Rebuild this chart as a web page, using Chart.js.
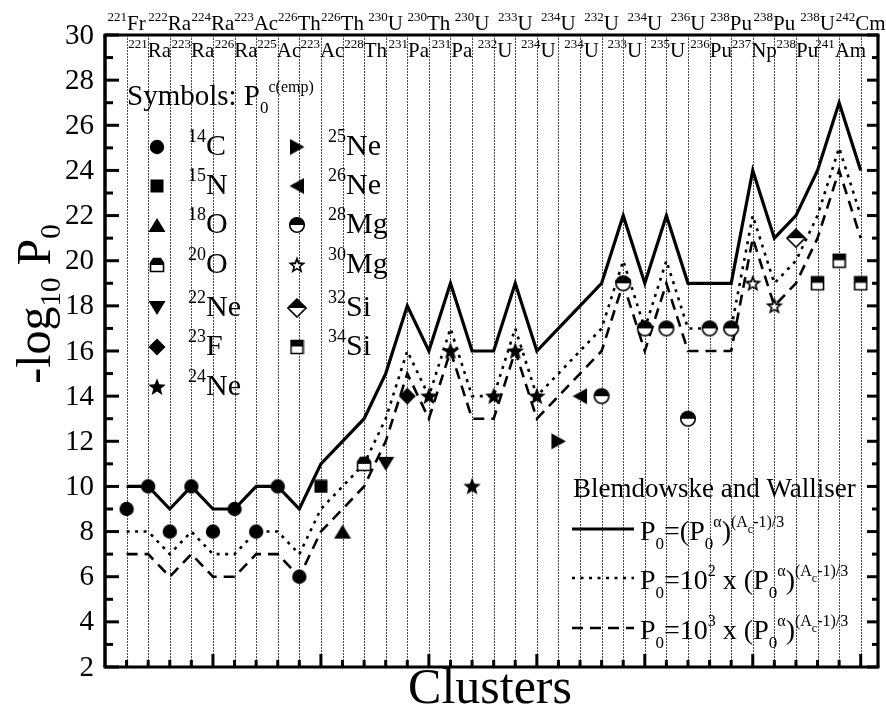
<!DOCTYPE html>
<html>
<head>
<meta charset="utf-8">
<script src="https://cdn.jsdelivr.net/npm/chart.js@4"></script>
<style>
html,body{margin:0;padding:0;background:#fff;}
canvas{display:block;}
</style>
</head>
<body>
<canvas id="c" width="886" height="710"></canvas>
<script>
// ---------- DATA ----------
const categories = ['221Fr','221Ra','222Ra','223Ra','224Ra','226Ra','223Ac','225Ac','226Th','223Ac','226Th','228Th','230U','231Pa','230Th','231Pa','230U','232U','233U','234U','234U','234U','232U','233U','234U','235U','236U','236Pu','238Pu','237Np','238Pu','238Pu','238U','241Am','242Cm'];
const solidBW  = [10,10,9,10,9,9,10,10,9,11,12,13,15,18,16,19,16,16,19,16,17,18,19,22,19,22,19,19,19,24,21,22,24,27,24];
const dotted100 = [8,8,7,8,7,7,8,8,7,9,10,11,13,16,14,17,14,14,17,14,15,16,17,20,17,20,17,17,17,22,19,20,22,25,22];
const dashed1000 = [7,7,6,7,6,6,7,7,6,8,9,10,12,15,13,16,13,13,16,13,14,15,16,19,16,19,16,16,16,21,18,19,21,24,21];
const empValues = [9,10,8,10,8,9,8,10,6,10,8,11,11,14,14,16,10,14,16,14,12,14,14,19,17,17,13,17,17,19,18,21,19,20,19];
const empCluster = ['14C','14C','14C','14C','14C','14C','14C','14C','14C','15N','18O','20O','22Ne','23F','24Ne','24Ne','24Ne','24Ne','24Ne','24Ne','25Ne','26Ne','28Mg','28Mg','28Mg','28Mg','28Mg','28Mg','28Mg','30Mg','30Mg','32Si','34Si','34Si','34Si'];
const legendCol1 = ['14C','15N','18O','20O','22Ne','23F','24Ne'];
const legendCol2 = ['25Ne','26Ne','28Mg','30Mg','32Si','34Si'];
const yTicks = [2,4,6,8,10,12,14,16,18,20,22,24,26,28,30];

// ---------- SYMBOLS ----------
function mk(w,h,fn){const c=document.createElement('canvas');c.width=w;c.height=h;const g=c.getContext('2d');fn(g,w,h);return c;}
function poly(g,pts){g.beginPath();pts.forEach((p,i)=>i?g.lineTo(p[0],p[1]):g.moveTo(p[0],p[1]));g.closePath();}
function starPath(g,cx,cy,R,r){g.beginPath();for(let k=0;k<10;k++){const a=-Math.PI/2+k*Math.PI/5;const rr=k%2?r:R;const px=cx+rr*Math.cos(a),py=cy+rr*Math.sin(a);k?g.lineTo(px,py):g.moveTo(px,py);}g.closePath();}
function halfFill(g,w,h,pathFn,cut){
  pathFn(); g.fillStyle='#fff'; g.fill();
  g.save(); pathFn(); g.clip(); g.fillStyle='#000'; g.fillRect(0,0,w,cut); g.restore();
  pathFn(); g.lineWidth=1.6; g.strokeStyle='#000'; g.stroke();
}
const symbols = {
  '14C': mk(16,16,g=>{g.beginPath();g.arc(8,8,7.2,0,Math.PI*2);g.fill();}),
  '15N': mk(14,14,g=>{g.fillRect(0.5,0.5,13,13);}),
  '18O': mk(18,16,g=>{poly(g,[[9,1],[17.5,15],[0.5,15]]);g.fill();}),
  '20O': mk(16,16,(g,w,h)=>halfFill(g,w,h,()=>poly(g,[[1.5,6],[4.5,1.5],[11.5,1.5],[14.5,6],[14.5,14.5],[1.5,14.5]]),8)),
  '22Ne': mk(18,16,g=>{poly(g,[[0.5,1],[17.5,1],[9,15]]);g.fill();}),
  '23F': mk(18,18,g=>{poly(g,[[9,0.5],[17.5,9],[9,17.5],[0.5,9]]);g.fill();}),
  '24Ne': mk(20,20,g=>{starPath(g,10,10.5,9.2,3.9);g.fill();}),
  '25Ne': mk(16,17,g=>{poly(g,[[1,0.5],[15.5,8.5],[1,16.5]]);g.fill();}),
  '26Ne': mk(16,17,g=>{poly(g,[[15,0.5],[0.5,8.5],[15,16.5]]);g.fill();}),
  '28Mg': mk(18,18,(g,w,h)=>halfFill(g,w,h,()=>{g.beginPath();g.arc(9,9,7.3,0,Math.PI*2);},9)),
  '30Mg': mk(20,20,g=>{starPath(g,10,10.5,9.2,3.9);g.fillStyle='#000';g.fill();starPath(g,10,10.8,4.6,1.9);g.fillStyle='#fff';g.fill();}),
  '32Si': mk(20,20,(g,w,h)=>halfFill(g,w,h,()=>poly(g,[[10,1],[19,10],[10,19],[1,10]]),10)),
  '34Si': mk(15,16,(g,w,h)=>halfFill(g,w,h,()=>{g.beginPath();g.rect(1.5,1.5,12,13);},7.5))
};

// ---------- DATASETS ----------
const lineData = arr => arr.map((v,i)=>({x:i+1,y:v}));
const clusterTypes = legendCol1.concat(legendCol2);
const markerSets = clusterTypes.map(ct=>({
  label: ct,
  data: empValues.map((v,i)=>empCluster[i]===ct?{x:i+1,y:v}:null).filter(p=>p),
  showLine:false,
  pointStyle: symbols[ct],
  pointRadius: 7,
  pointHoverRadius: 7,
  order: 0
}));
const datasets = [
  {label:'solid',data:lineData(solidBW),borderColor:'#000',borderWidth:3.2,pointRadius:0,tension:0,fill:false,order:1},
  {label:'dotted',data:lineData(dotted100),borderColor:'#000',borderWidth:2.6,borderDash:[3,5.5],pointRadius:0,tension:0,fill:false,order:1},
  {label:'dashed',data:lineData(dashed1000),borderColor:'#000',borderWidth:2.6,borderDash:[11,7],pointRadius:0,tension:0,fill:false,order:1}
].concat(markerSets);

// ---------- TEXT HELPERS ----------
const FONT = '"Liberation Serif","DejaVu Serif",serif';
function richWidth(ctx,segs,S){let w=0;segs.forEach(s=>{ctx.font=S[s[1]].size+'px '+FONT;w+=ctx.measureText(s[0]).width;});return w;}
function drawRich(ctx,x,y,segs,S){
  let cx=x;
  segs.forEach(s=>{const st=S[s[1]];ctx.font=st.size+'px '+FONT;ctx.fillText(s[0],cx,y+st.dy);cx+=ctx.measureText(s[0]).width;});
  return cx;
}
const fS = {n:{size:28,dy:0},sub:{size:17,dy:9},sup:{size:16,dy:-13},ss:{size:12,dy:-7}};

// ---------- PLUGIN ----------
const deco = {
  id:'deco',
  beforeDatasetsDraw(chart){
    const ctx=chart.ctx, xs=chart.scales.x, a=chart.chartArea;
    ctx.save();
    ctx.strokeStyle='#4a4a4a'; ctx.lineWidth=1; ctx.setLineDash([2,1]);
    for(let i=1;i<=categories.length;i++){
      const px=Math.round(xs.getPixelForValue(i))+0.5;
      ctx.beginPath(); ctx.moveTo(px,a.top); ctx.lineTo(px,a.bottom); ctx.stroke();
    }
    ctx.restore();
  },
  afterDraw(chart){
    const ctx=chart.ctx, xs=chart.scales.x, ys=chart.scales.y, a=chart.chartArea;
    ctx.save();
    ctx.fillStyle='#000'; ctx.strokeStyle='#000';
    // ticks
    ctx.lineWidth=3;
    for(let v=2; v<=30; v++){
      const py=ys.getPixelForValue(v);
      const L = v%2===0 ? 14 : 8;
      const R = v%2===0 ? 11 : 6;
      ctx.beginPath(); ctx.moveTo(a.left,py); ctx.lineTo(a.left+L,py); ctx.stroke();
      ctx.beginPath(); ctx.moveTo(a.right,py); ctx.lineTo(a.right-R,py); ctx.stroke();
    }
    for(let i=1;i<=categories.length;i++){
      const px=xs.getPixelForValue(i);
      const L = i%5===0 ? 13 : 7;
      ctx.beginPath(); ctx.moveTo(px,a.bottom); ctx.lineTo(px,a.bottom-L); ctx.stroke();
    }
    // frame
    ctx.lineWidth=3.5;
    ctx.beginPath(); ctx.moveTo(a.left,a.top); ctx.lineTo(a.left,a.bottom); ctx.stroke();
    ctx.lineWidth=3.2;
    ctx.beginPath(); ctx.moveTo(a.left-1.5,a.bottom); ctx.lineTo(a.right+1.5,a.bottom); ctx.stroke();
    ctx.beginPath(); ctx.moveTo(a.left-1.5,a.top); ctx.lineTo(a.right+1.5,a.top); ctx.stroke();
    ctx.beginPath(); ctx.moveTo(a.right,a.top); ctx.lineTo(a.right,a.bottom); ctx.stroke();
    // y tick labels
    ctx.font='29px '+FONT; ctx.textAlign='right'; ctx.textBaseline='middle';
    yTicks.forEach(v=>{ctx.fillText(String(v),94,ys.getPixelForValue(v)+1);});
    ctx.textAlign='left'; ctx.textBaseline='alphabetic';
    // nuclide labels
    const lS={n:{size:21,dy:0},sup:{size:13,dy:-9}};
    categories.forEach((c,i)=>{
      const m=c.match(/^(\d+)(\D+)$/);
      const segs=[[m[1],'sup'],[m[2],'n']];
      const w=richWidth(ctx,segs,lS);
      const px=xs.getPixelForValue(i+1);
      const base = i%2===0 ? 30 : 57;
      drawRich(ctx,px-w/2+ (i%2===0?0:1.5),base,segs,lS);
    });
    // symbols legend
    drawRich(ctx,127,105,[['Symbols: P','n'],['0','sub'],['c(emp)','sup']],{n:{size:29,dy:0},sub:{size:17,dy:8},sup:{size:16,dy:-13}});
    const rows=[147,186,225,265,308,347,387];
    const labS={n:{size:30,dy:0},sup:{size:18,dy:-13}};
    const drawEntry=(ct,sx,tx,ry)=>{
      const s=symbols[ct]; ctx.drawImage(s,sx-s.width/2,ry-s.height/2);
      const m=ct.match(/^(\d+)(\D+)$/);
      drawRich(ctx,tx,ry+8,[[m[1],'sup'],[m[2],'n']],labS);
    };
    legendCol1.forEach((ct,k)=>drawEntry(ct,157,188,rows[k]));
    legendCol2.forEach((ct,k)=>drawEntry(ct,297,328,rows[k]));
    // lines legend
    ctx.font='27px '+FONT; ctx.fillText('Blemdowske and Walliser',573,497);
    const ly=[529,578,628], dashes=[[],[3,5.5],[11,7]], widths=[3.2,2.6,2.6];
    ly.forEach((y,k)=>{
      ctx.save(); ctx.lineWidth=widths[k]; ctx.setLineDash(dashes[k]);
      ctx.beginPath(); ctx.moveTo(572,y); ctx.lineTo(634,y); ctx.stroke(); ctx.restore();
      let segs;
      if(k===0) segs=[['P','n'],['0','sub'],['=(P','n'],['0','sub'],['α','sup'],[')','n'],['(A','sup'],['c','ss'],['-1)/3','sup']];
      else segs=[['P','n'],['0','sub'],['=10','n'],[k===1?'2':'3','sup'],[' x (P','n'],['0','sub'],['α','sup'],[')','n'],['(A','sup'],['c','ss'],['-1)/3','sup']];
      drawRich(ctx,640,y+11,segs,fS);
    });
    // axis titles
    ctx.font='50px '+FONT; ctx.textAlign='center';
    ctx.fillText('Clusters',490,703);
    ctx.textAlign='left';
    const tS={n:{size:48,dy:0},sub:{size:29,dy:10}};
    const tSegs=[['-log','n'],['10','sub'],[' P','n'],['0','sub']];
    const tw=richWidth(ctx,tSegs,tS);
    ctx.translate(50,304); ctx.rotate(-Math.PI/2);
    drawRich(ctx,-tw/2,0,tSegs,tS);
    ctx.restore();
  }
};

new Chart(document.getElementById('c'),{
  type:'line',
  data:{datasets},
  options:{
    responsive:false, animation:false, devicePixelRatio:1,
    layout:{padding:{left:105,top:35,right:6,bottom:43}},
    plugins:{legend:{display:false},tooltip:{enabled:false}},
    events:[],
    scales:{
      x:{type:'linear',min:0,max:35.8,display:false},
      y:{type:'linear',min:2,max:30,display:false}
    }
  },
  plugins:[deco]
});
</script>
</body>
</html>
